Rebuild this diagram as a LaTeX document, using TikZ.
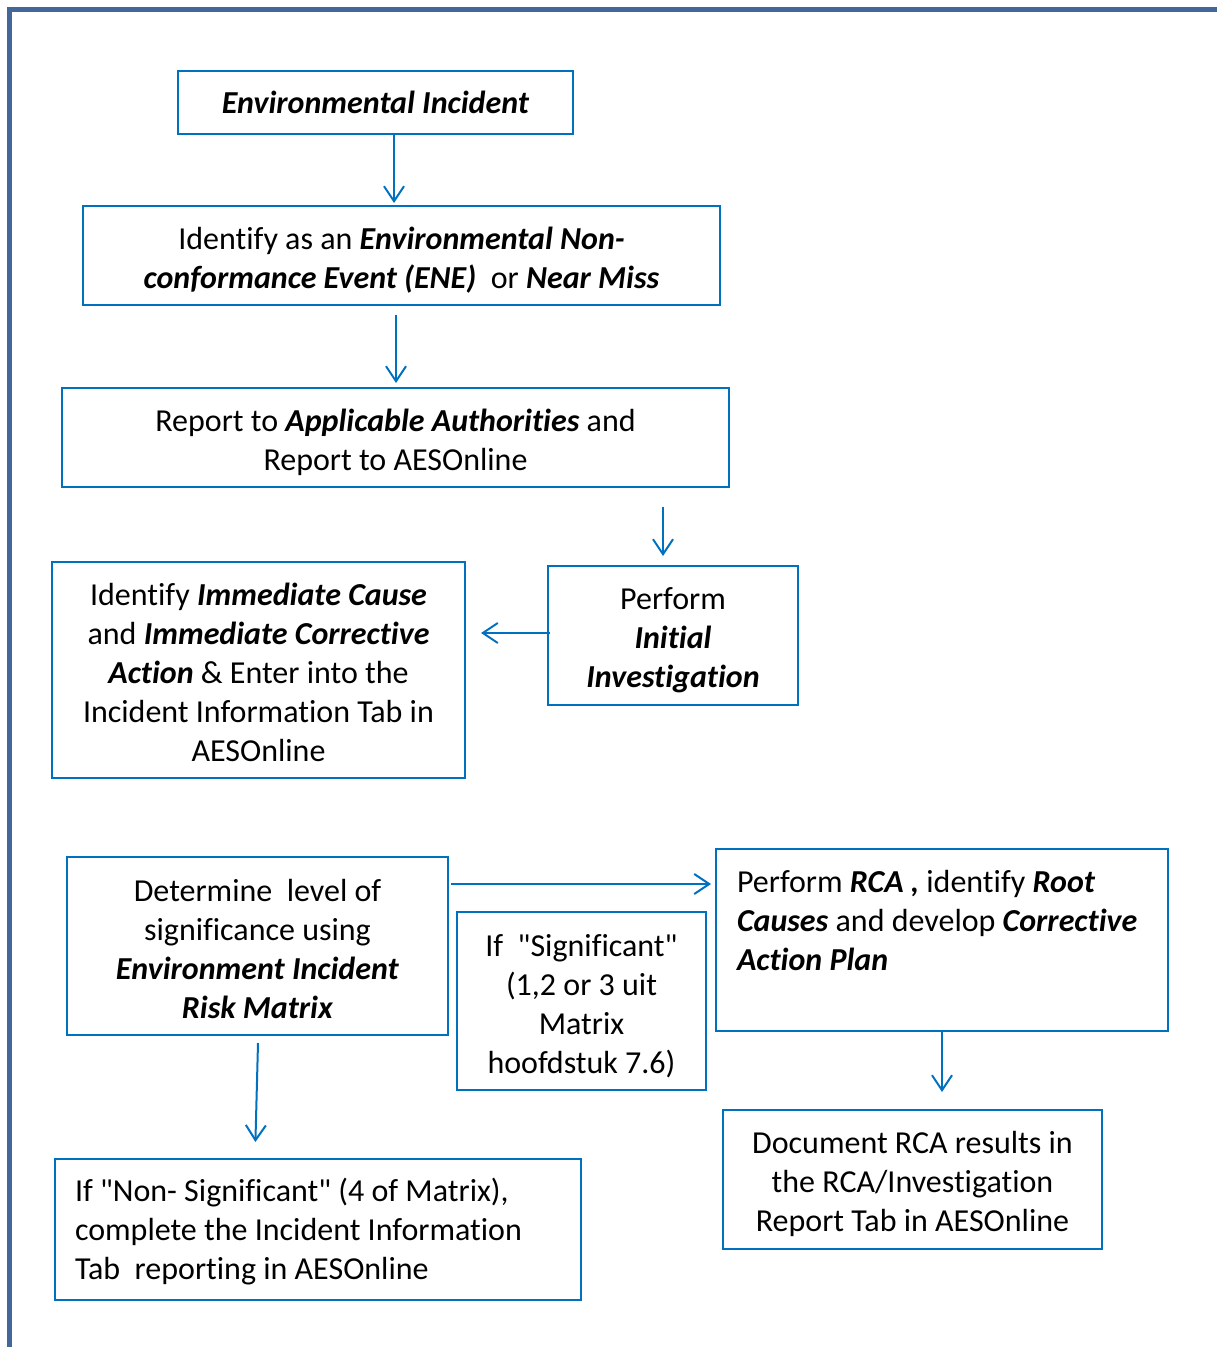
\documentclass[tikz,border=0pt]{standalone}
\usepackage{fontspec}
\setmainfont{Carlito}[RawFeature={-liga;-clig;-calt;-dlig}]
\usetikzlibrary{arrows.meta}
\definecolor{boxblue}{RGB}{0,112,192}
\definecolor{framec}{RGB}{68,103,154}
\newcommand\bfit[1]{\textbf{\textit{#1}}}
\newcommand\qq{\textquotedbl}
\newcommand\tall[1]{\rule{0pt}{#1}}
\tikzset{
  box/.style={draw=boxblue, line width=1pt, align=center, inner sep=0pt,
    font=\fontsize{16}{19.5}\selectfont},
  arr/.style={draw=boxblue, line width=1pt, -{Straight Barb[length=7.5pt,width=10pt,line width=1pt]}},
  frame/.style={draw=framec, line width=2.5pt, line join=miter}
}
\begin{document}
\begin{tikzpicture}[x=0.5pt,y=-0.5pt]
\useasboundingbox (0,0) rectangle (1217,1347);
\draw[frame] (9.5,1347) -- (9.5,9.3) -- (1217,9.3);

\node[box, minimum width=197.5pt, minimum height=31.5pt] (b1) at (375.5,102.5) {\bfit{Environmental Incident}};
\node[box, minimum width=318.5pt, minimum height=49.5pt] (b2) at (401.5,255.5) {\tall{16pt}Identify as an \bfit{Environmental Non-}\\\bfit{conformance Event (ENE)}~ or \bfit{Near Miss}};
\node[box, minimum width=333.5pt, minimum height=49.5pt] (b3) at (395.5,437.5) {\tall{16pt}Report to \bfit{Applicable Authorities} and\\Report to AESOnline};
\node[box, minimum width=125pt, minimum height=69.5pt] (b4) at (673,635.5) {\tall{16pt}Perform\\\bfit{Initial}\\\bfit{Investigation}};
\node[box, minimum width=206.5pt, minimum height=108pt] (b5) at (258.5,670) {\tall{14pt}Identify \bfit{Immediate Cause}\\and \bfit{Immediate Corrective}\\\bfit{Action} \& Enter into the\\Incident Information Tab in\\AESOnline};
\node[box, minimum width=190.5pt, minimum height=89pt] (b6) at (257.5,946) {\tall{14pt}Determine~ level of\\significance using\\\bfit{Environment Incident}\\\bfit{Risk Matrix}};
\node[box, minimum width=124.5pt, minimum height=89pt] (b7) at (581.5,1001) {\tall{16pt}If~ \qq Significant\qq\\(1,2 or 3 uit\\Matrix\\hoofdstuk 7.6)};
\node[box, align=flush left, text width=205pt, inner xsep=10.5pt, minimum height=91pt] (b8) at (942,940) {Perform \bfit{RCA ,} identify \bfit{Root}\\\bfit{Causes} and develop \bfit{Corrective}\\\bfit{Action Plan}\\\mbox{}};
\node[box, minimum width=189.5pt, minimum height=69.5pt] (b9) at (912.5,1179.5) {\tall{16pt}Document RCA results in\\the RCA/Investigation\\Report Tab in AESOnline};
\node[box, align=flush left, text width=243pt, inner xsep=10pt, minimum height=70.5pt] (b10) at (318,1229.5) {\tall{14pt}If \qq Non- Significant\qq\ (4 of Matrix),\\complete the Incident Information\\Tab~ reporting in AESOnline};

\coordinate (c12) at ([xshift=9.25pt]b1.south);
\draw[arr, shorten >=1pt] (c12) -- (c12 |- b2.north);
\coordinate (c23) at ([xshift=-2.75pt]b2.south);
\draw[arr, shorten <=4.5pt, shorten >=2pt] (c23) -- (c23 |- b3.north);
\coordinate (c34) at ([xshift=-5pt]b4.north);
\draw[arr, shorten <=9.5pt, shorten >=4.5pt] (c34 |- b3.south) -- (c34);
\coordinate (c45) at ([yshift=1.25pt]b4.west);
\draw[arr, shorten <=-1.5pt, shorten >=7.5pt] (c45) -- (c45 -| b5.east);
\coordinate (c68) at ([yshift=-14pt]b6.north east);
\draw[arr, shorten <=1pt, shorten >=2pt] (c68) -- (c68 -| b8.west);
\draw[arr, shorten >=8.5pt] (b8.south) -- (b9.north -| b8.south);
\draw[arr, shorten >=8pt] ([xshift=0.25pt,yshift=-3.5pt]b6.south) -- ([xshift=-31.5pt]b10.north);
\end{tikzpicture}
\end{document}
